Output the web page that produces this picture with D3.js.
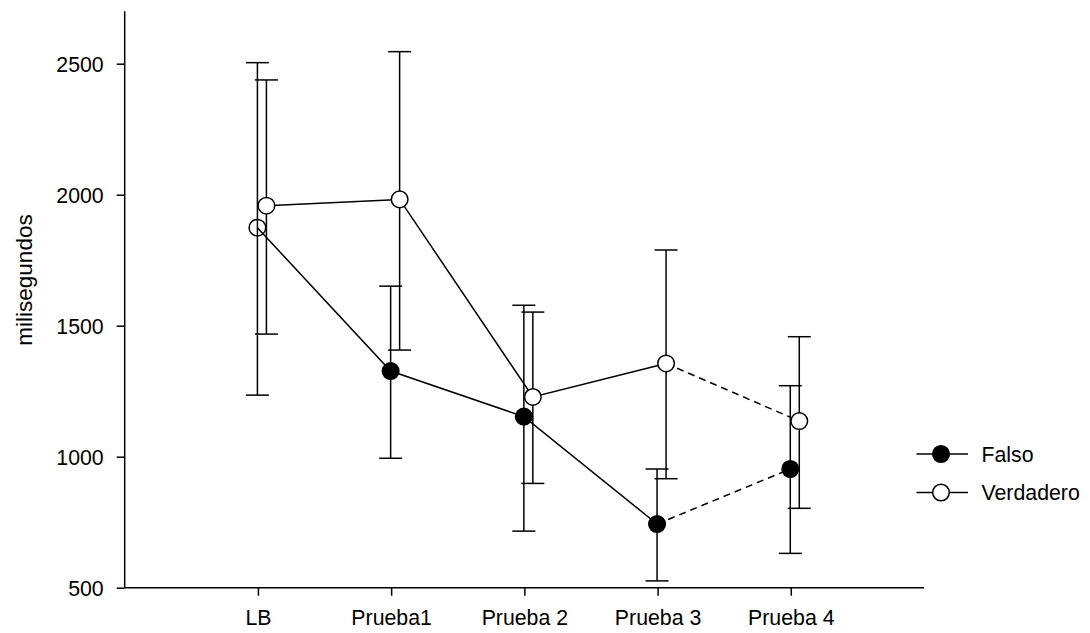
<!DOCTYPE html>
<html>
<head>
<meta charset="utf-8">
<script src="https://cdn.jsdelivr.net/npm/d3@7"></script>
<style>
  html, body { margin: 0; padding: 0; background: #fff; }
  svg { display: block; font-family: "Liberation Sans", Arial, sans-serif; }
</style>
</head>
<body>
<svg id="chart" width="1090" height="633"></svg>
<script>
// Sessions on the x axis
const categories = ["LB", "Prueba1", "Prueba 2", "Prueba 3", "Prueba 4"];
const yTicks = [500, 1000, 1500, 2000, 2500];
const seriesNames = ["Falso", "Verdadero"];

// Mean response times (ms) with upper and lower error-bar limits
const falsoMean  = [1874, 1327, 1153, 743, 953];
const falsoHigh  = [2504, 1651, 1578, 953, 1271];
const falsoLow   = [1235, 994, 716, 526, 631];

const verdMean   = [1958, 1982, 1228, 1356, 1136];
const verdHigh   = [2438, 2546, 1552, 1789, 1458];
const verdLow    = [1468, 1407, 898, 916, 803];

const svg = d3.select("#chart");
const FONT = 21.3;

const x = d3.scaleLinear().domain([0, categories.length + 1]).range([124.7, 924]);
const y = d3.scaleLinear().domain([500, 2700]).range([587.7, 11.3]);

const series = [
  { name: seriesNames[0], mean: falsoMean, hi: falsoHigh, lo: falsoLow, dx: -0.5, fill: "#000" },
  { name: seriesNames[1], mean: verdMean,  hi: verdHigh,  lo: verdLow,  dx: 8.5,  fill: "#fff" }
];

const R = 8.3;
const CAP = 11.5;
const SW = 1.5;

// Axes
const yAxis = d3.axisLeft(y).tickValues(yTicks).tickSize(8).tickPadding(13).tickFormat(d3.format("d"));
const gy = svg.append("g").attr("transform", `translate(${x(0)},0)`).call(yAxis);
gy.select(".domain").attr("d", `M-0,${y(500)}V${y(2700)}`);

const xAxis = d3.axisBottom(x).tickValues(d3.range(1, categories.length + 1))
  .tickSize(8).tickPadding(14).tickFormat(i => categories[i - 1]);
const gx = svg.append("g").attr("transform", `translate(0,${y(500)})`).call(xAxis);
gx.select(".domain").attr("d", `M${x(0)},0H${x(categories.length + 1)}`);

svg.selectAll(".domain, .tick line").attr("stroke", "#000").attr("stroke-width", SW);
svg.selectAll(".tick text").attr("fill", "#000").style("font-size", FONT + "px");
gy.selectAll(".tick text").attr("dy", "0.36em");

// Y axis title
svg.append("text")
  .attr("transform", "translate(31.5,280) rotate(-90)")
  .attr("text-anchor", "middle")
  .style("font-size", "22.5px")
  .attr("fill", "#000")
  .text("milisegundos");

const plot = svg.append("g");

// Error bars
series.forEach(s => {
  s.mean.forEach((m, i) => {
    const cx = x(i + 1) + s.dx;
    const g = plot.append("g").attr("stroke", "#000").attr("stroke-width", SW);
    g.append("line").attr("x1", cx).attr("x2", cx).attr("y1", y(s.hi[i])).attr("y2", y(s.lo[i]));
    g.append("line").attr("x1", cx - CAP).attr("x2", cx + CAP).attr("y1", y(s.hi[i])).attr("y2", y(s.hi[i]));
    g.append("line").attr("x1", cx - CAP).attr("x2", cx + CAP).attr("y1", y(s.lo[i])).attr("y2", y(s.lo[i]));
  });
});

// Connecting lines: solid through Prueba 3, dashed to Prueba 4
const line = d3.line().x(d => d[0]).y(d => d[1]);
series.forEach(s => {
  const pts = s.mean.map((m, i) => [x(i + 1) + s.dx, y(m)]);
  plot.append("path").attr("d", line(pts.slice(0, 4)))
    .attr("fill", "none").attr("stroke", "#000").attr("stroke-width", SW);
  plot.append("path").attr("d", line(pts.slice(3)))
    .attr("fill", "none").attr("stroke", "#000").attr("stroke-width", SW)
    .attr("stroke-dasharray", "7,5");
});

// Markers (the first Falso marker is drawn as a hollow ring)
series.forEach((s, si) => {
  s.mean.forEach((m, i) => {
    const hollow = si === 0 && i === 0;
    const c = plot.append("circle")
      .attr("cx", x(i + 1) + s.dx).attr("cy", y(m)).attr("r", R)
      .attr("fill", hollow ? "none" : s.fill)
      .attr("stroke", "#000").attr("stroke-width", SW);
    if (hollow) c.lower();
  });
});

// Legend
const legend = svg.append("g").attr("transform", "translate(916.5,454)");
series.forEach((s, i) => {
  const g = legend.append("g").attr("transform", `translate(0,${i * 38.5})`);
  g.append("line").attr("x1", 0).attr("x2", 51.5).attr("y1", 0).attr("y2", 0)
    .attr("stroke", "#000").attr("stroke-width", SW);
  g.append("circle").attr("cx", 24.5).attr("cy", 0).attr("r", R)
    .attr("fill", s.fill).attr("stroke", "#000").attr("stroke-width", SW);
  g.append("text").attr("x", 65).attr("y", 0).attr("dy", "0.36em")
    .style("font-size", FONT + "px").attr("fill", "#000").text(s.name);
});
</script>
</body>
</html>
